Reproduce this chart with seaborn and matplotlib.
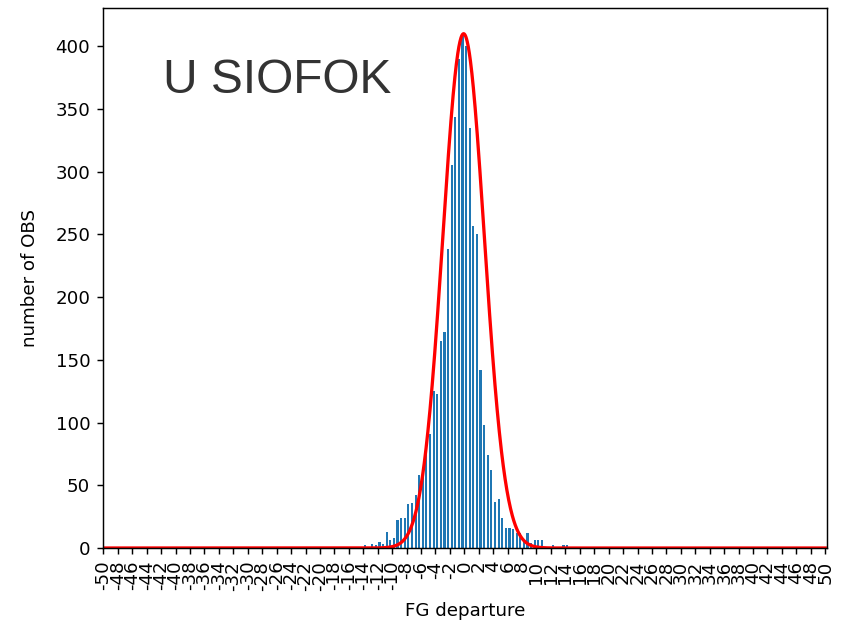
import numpy as np
import pandas as pd
import matplotlib
matplotlib.use("Agg")
import matplotlib.pyplot as plt
import seaborn as sns

# Histogram of first-guess departures (bin centres, 0.5 wide bins)
bin_centers = [
    -13.75, -13.25, -12.75, -12.25, -11.75, -11.25, -10.75, -10.25, -9.75, -9.25,
    -8.75, -8.25, -7.75, -7.25, -6.75, -6.25, -5.75, -5.25, -4.75, -4.25,
    -3.75, -3.25, -2.75, -2.25, -1.75, -1.25, -0.75, -0.25, 0.25, 0.75,
    1.25, 1.75, 2.25, 2.75, 3.25, 3.75, 4.25, 4.75, 5.25, 5.75,
    6.25, 6.75, 7.25, 7.75, 8.25, 8.75, 9.25, 9.75, 10.25, 10.75,
    11.25, 11.75, 12.25, 12.75, 13.25, 13.75, 14.25,
]
obs_counts = [
    2, 0, 3, 2, 5, 3, 13, 6, 8, 22,
    24, 24, 35, 36, 42, 58, 60, 78, 91, 125,
    123, 165, 172, 238, 305, 344, 390, 408, 400, 335,
    257, 250, 142, 98, 74, 62, 37, 39, 24, 16,
    16, 15, 12, 12, 6, 12, 4, 6, 6, 6,
    0, 0, 2, 0, 0, 2, 2,
]

# Normal curve fitted to the departures
fit_peak = 410.0
fit_mean = -0.1
fit_sigma = 2.87

tick_values = list(range(-50, 51, 2))
station_title = "U SIOFOK"

dpi = 131
fig = plt.figure(figsize=(841 / dpi, 626 / dpi), dpi=dpi)
ax = fig.add_axes([0.1225, 0.1246, 0.8609, 0.8626])

hist_df = pd.DataFrame({"departure": bin_centers, "count": obs_counts})
sns.histplot(data=hist_df, x="departure", weights="count",
             binwidth=0.5, binrange=(-14.0, 14.5),
             shrink=0.6, color="#1f77b4", alpha=1.0, linewidth=0,
             edgecolor="none", ax=ax)

xs = np.linspace(-50, 50, 2001)
curve_df = pd.DataFrame({
    "departure": xs,
    "fit": fit_peak * np.exp(-0.5 * ((xs - fit_mean) / fit_sigma) ** 2),
})
sns.lineplot(data=curve_df, x="departure", y="fit", color="red", linewidth=1.8,
             ax=ax)

ax.set_xlim(-50.05, 50.25)
ax.set_ylim(0, 430.5)
ax.set_xticks(tick_values)
ax.set_xticklabels([str(t) for t in tick_values], rotation=90)
ax.set_yticks(range(0, 401, 50))
ax.set_xlabel("FG departure", labelpad=6)
ax.set_ylabel("number of OBS", labelpad=9)

ax.text(0.083, 0.843, station_title, transform=ax.transAxes,
        fontsize=26.3, color="#333333", family="Liberation Sans",
        ha="left", va="baseline")

fig.savefig("out.png", dpi=dpi)
